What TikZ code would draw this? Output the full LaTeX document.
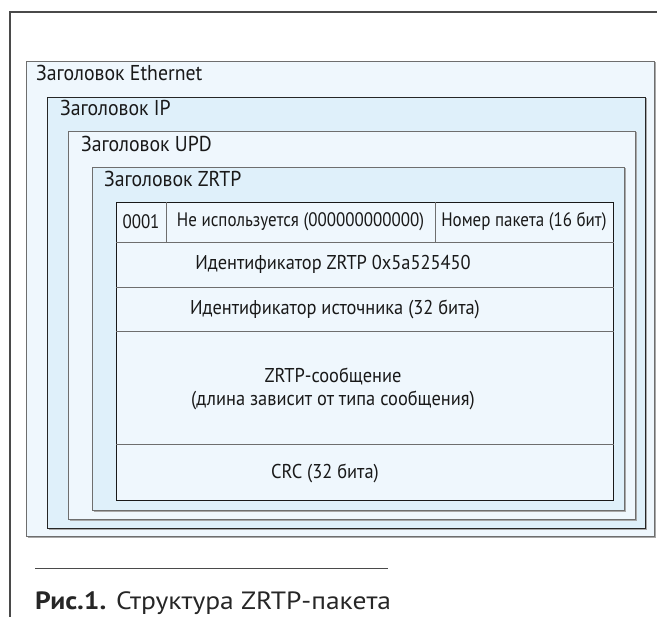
\documentclass[tikz,border=0pt]{standalone}
\usepackage{fontspec}
\setmainfont{PT Sans}
\newfontfamily\diagfont[FakeStretch=0.92]{PT Sans}
\newfontfamily\narrowfont[FakeStretch=0.87]{PT Sans}
\newfontfamily\capfont[FakeStretch=1.1]{PT Sans}
\definecolor{fillA}{HTML}{EFF7FD}
\definecolor{fillB}{HTML}{DFF0FA}
\definecolor{bordG}{HTML}{6E6E6E}
\definecolor{shadowG}{HTML}{A8A8A8}
\definecolor{frameG}{HTML}{4A4A4A}
\begin{document}
\begin{tikzpicture}[x=1pt,y=-1pt,
  txt/.style={font=\diagfont\fontsize{20}{24}\selectfont, inner sep=0pt, text=black!90},
  cell/.style={font=\narrowfont\fontsize{19.5}{24}\selectfont, inner sep=0pt, text=black!90},
  lbl/.style={font=\diagfont\fontsize{21.5}{25}\selectfont, inner sep=0pt, text=black!90, anchor=mid west},
  layer/.style={line width=0.9pt},
  rowline/.style={draw=bordG, line width=0.8pt},
  shadowline/.style={draw=shadowG, line width=1.2pt}]
\useasboundingbox (0,0) rectangle (657,617);
% outer frame
\coordinate (fA) at (10,617);
\coordinate (fB) at (10,12);
\coordinate (fC) at (657,12);
\draw[frameG, line width=1.1pt] (fA) -- (fB) -- (fC);
% boxes (shadow then box)
\draw[shadowline] (27.5,537.5) -- (655.5,537.5) -- (655.5,62.5);
\path[layer, fill=fillA, draw=bordG] (26,61) rectangle (654,536);
\draw[shadowline] (48.5,529.5) -- (646.5,529.5) -- (646.5,98.5);
\path[layer, fill=fillB, draw=black!85] (47,97) rectangle (645,528);
\draw[shadowline] (69.5,520.5) -- (636.5,520.5) -- (636.5,132.5);
\path[layer, fill=fillA, draw=bordG] (68,131) rectangle (635,519);
\draw[shadowline] (93.5,511.5) -- (625.5,511.5) -- (625.5,168.5);
\path[layer, fill=fillB, draw=bordG] (92,167) rectangle (624,510);
\path[layer, fill=fillA, draw=black!90] (116,202) rectangle (613.5,500);
% labels
\node[lbl] (lEth) at (36,78) {Заголовок Ethernet};
\node[lbl] (lIP) at (60,113) {Заголовок IP};
\node[lbl] (lUDP) at (81,149) {Заголовок UPD};
\node[lbl] (lZRTP) at (104,184) {Заголовок ZRTP};
% table rows
\draw[rowline] (116,242) -- (613.5,242);
\draw[rowline] (116,287) -- (613.5,287);
\draw[rowline] (116,331) -- (613.5,331);
\draw[rowline] (116,444) -- (613.5,444);
\draw[rowline] (166,202) -- (166,242);
\draw[rowline] (435,202) -- (435,242);
\node[cell] (c1) at (141,222) {0001};
\node[cell] (c2) at (300.5,222) {Не используется (000000000000)};
\node[cell] (c3) at (524,222) {Номер пакета (16 бит)};
\node[txt] (r2) at (333,264) {Идентификатор ZRTP 0x5a525450};
\node[txt] (r3) at (335,309) {Идентификатор источника (32 бита)};
\node[txt, align=center] (r4) at (333,389) {ZRTP-сообщение\\[-1pt](длина зависит от типа сообщения)};
\node[txt] (r5) at (325,473) {CRC (32 бита)};
% caption
\coordinate (capA) at (35,569);
\coordinate (capB) at (388,569);
\draw[frameG, line width=1pt] (capA) -- (capB);
\node[anchor=base west, inner sep=0pt, font=\capfont\fontsize{25}{29}\selectfont, text=black!85] (cap) at (35,610) {\textbf{Рис.1.} Структура ZRTP-пакета};
\end{tikzpicture}
\end{document}
